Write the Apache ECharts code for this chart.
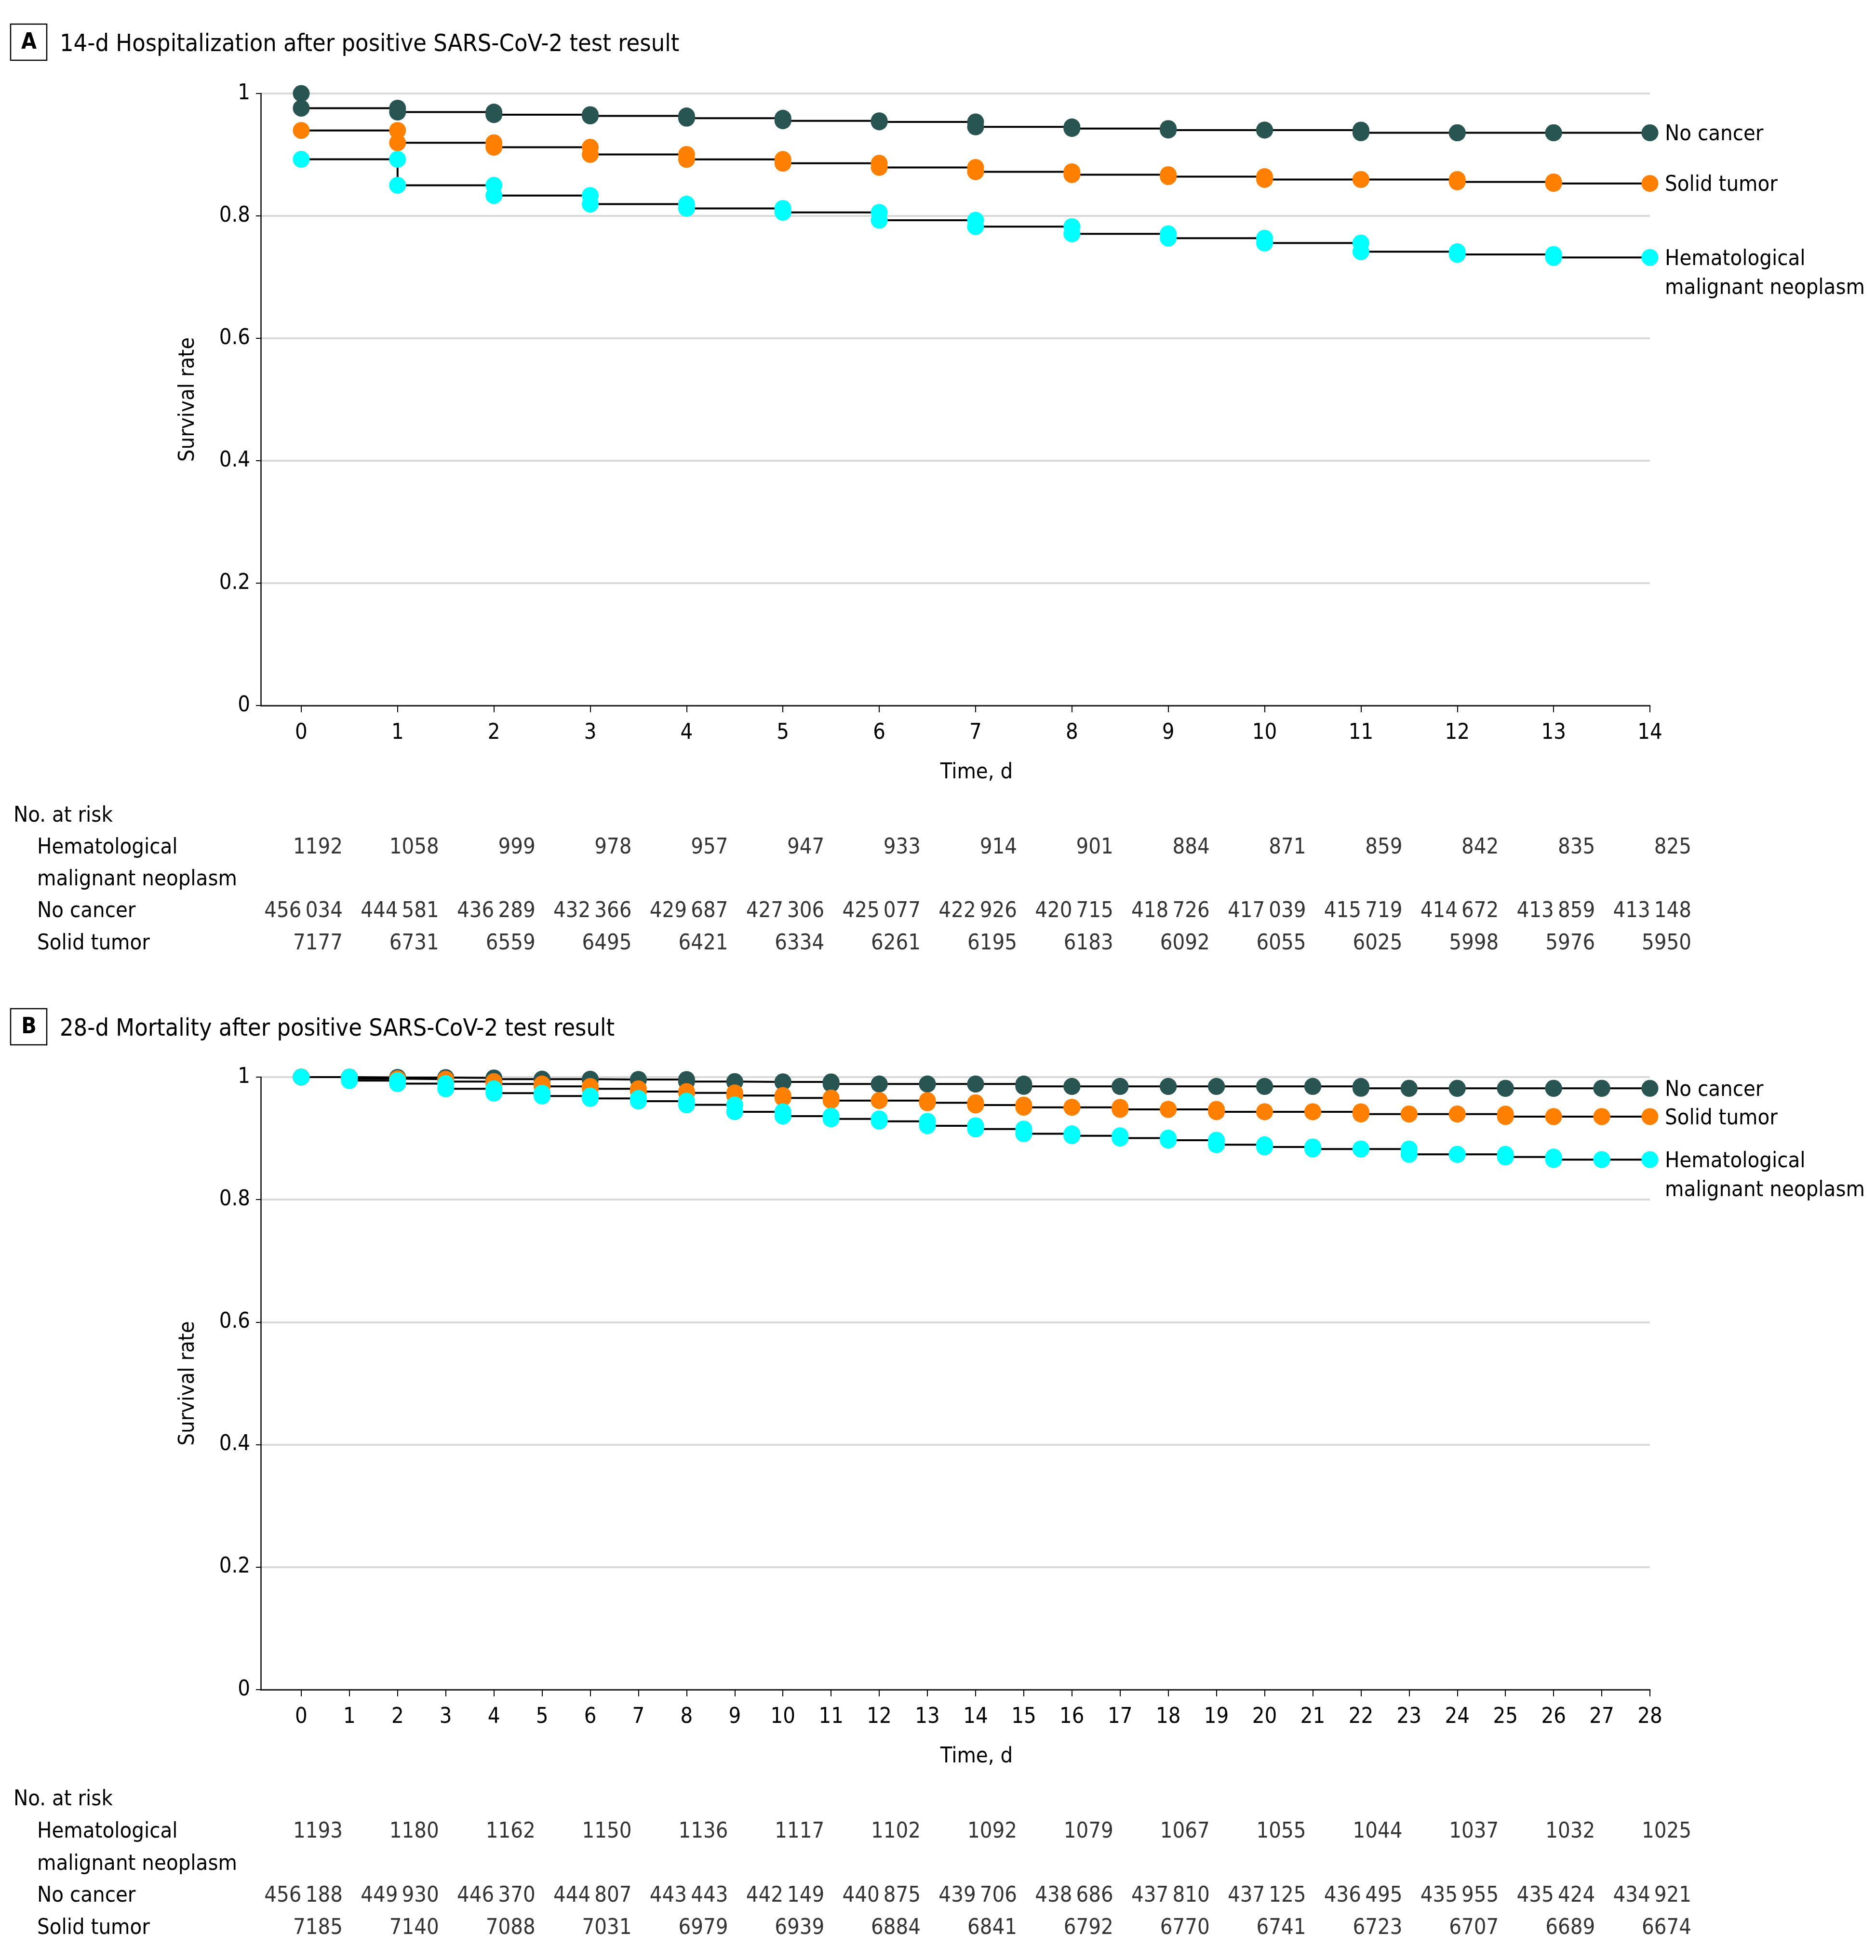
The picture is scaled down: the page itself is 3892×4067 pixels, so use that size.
<!DOCTYPE html>
<html><head><meta charset="utf-8">
<script src="https://cdn.jsdelivr.net/npm/echarts@6/dist/echarts.min.js"></script>
<style>html,body{margin:0;padding:0;background:#fff}#c{width:3892px;height:4067px}</style>
</head><body><div id="c"></div>
<script>
const FONT = "'DejaVu Sans Condensed', 'DejaVu Sans', sans-serif";
const C_NO = '#285452', C_SOLID = '#FF8000', C_HEME = '#00FFFF';

// ---- Panel A: 14-d hospitalization (value of survival on [d, d+1)) ----
const daysA = [0,1,2,3,4,5,6,7,8,9,10,11,12,13,14];
const noCancerStartA = 1.0;
const noCancerA = [0.976,0.9696,0.9654,0.9633,0.9596,0.9554,0.9536,0.9454,0.9428,0.9402,0.9402,0.9358,0.9358,0.9358];
const solidA = [0.9396,0.9195,0.9122,0.9004,0.8923,0.886,0.8792,0.8721,0.8674,0.8642,0.8595,0.8595,0.8556,0.853];
const hemeA = [0.8925,0.85,0.8333,0.8192,0.8123,0.8058,0.7929,0.7825,0.7707,0.7636,0.7557,0.7415,0.7371,0.7321];

// ---- Panel B: 28-d mortality ----
const daysB = [0,1,2,3,4,5,6,7,8,9,10,11,12,13,14,15,16,17,18,19,20,21,22,23,24,25,26,27,28];
const noCancerB = [1.0,0.9995,0.9992,0.9987,0.9966,0.9966,0.9961,0.9961,0.9927,0.9921,0.9921,0.9887,0.9887,0.9887,0.9887,0.9848,0.9848,0.9848,0.9848,0.9848,0.9848,0.9848,0.9817,0.9817,0.9817,0.9817,0.9817,0.9817];
const solidB = [1.0,0.9974,0.9966,0.9927,0.9887,0.9848,0.9809,0.9764,0.9743,0.9699,0.9659,0.9617,0.9617,0.9581,0.9544,0.9507,0.9507,0.9473,0.9473,0.9434,0.9434,0.9434,0.9397,0.9397,0.9397,0.9355,0.9355,0.9355];
const hemeB = [1.0,0.9942,0.9893,0.9809,0.9738,0.9691,0.9651,0.9607,0.9547,0.9434,0.9363,0.9318,0.9279,0.9206,0.9153,0.9075,0.9043,0.9004,0.8970,0.8896,0.8860,0.8826,0.8826,0.8739,0.8739,0.8695,0.8653,0.8653];

// ---- Number at risk ----
const riskDaysA = [0,1,2,3,4,5,6,7,8,9,10,11,12,13,14];
const riskHemeA = [1192,1058,999,978,957,947,933,914,901,884,871,859,842,835,825];
const riskNoCancerA = [456034,444581,436289,432366,429687,427306,425077,422926,420715,418726,417039,415719,414672,413859,413148];
const riskSolidA = [7177,6731,6559,6495,6421,6334,6261,6195,6183,6092,6055,6025,5998,5976,5950];
const riskDaysB = [0,2,4,6,8,10,12,14,16,18,20,22,24,26,28];
const riskHemeB = [1193,1180,1162,1150,1136,1117,1102,1092,1079,1067,1055,1044,1037,1032,1025];
const riskNoCancerB = [456188,449930,446370,444807,443443,442149,440875,439706,438686,437810,437125,436495,435955,435424,434921];
const riskSolidB = [7185,7140,7088,7031,6979,6939,6884,6841,6792,6770,6741,6723,6707,6689,6674];

const yTickLabels = ['0','0.2','0.4','0.6','0.8','1'];
const rowLabels = ['No. at risk','Hematological','malignant neoplasm','No cancer','Solid tumor'];
const seriesNames = ['No cancer','Solid tumor','Hematological\nmalignant neoplasm'];

function stepData(start, vals){
  const pts = [];
  if (start != null) pts.push([0, start]);
  pts.push([0, vals[0]]);
  for (let i = 1; i < vals.length; i++){ pts.push([i, vals[i-1]]); pts.push([i, vals[i]]); }
  pts.push([vals.length, vals[vals.length-1]]);
  return pts;
}
function fmtN(n){ return n >= 10000 ? String(n).replace(/\B(?=(\d{3})+(?!\d))/g, '\u2009') : String(n); }

const TS = 45;
const GL = 541, GW = 2882;
const txt = {color:'#000', fontFamily: FONT, fontSize: TS};

function xAxisPlot(gi, min, max, days){
  return {gridIndex: gi, type:'value', min:min, max:max,
    axisLine:{show:true, onZero:false, lineStyle:{color:'#222', width:3}},
    axisTick:{show:true, customValues: days, length:14, lineStyle:{color:'#000', width:2}},
    axisLabel:Object.assign({customValues: days, margin:35}, txt),
    splitLine:{show:false},
    name:'Time, d', nameLocation:'middle', nameGap:117,
    nameTextStyle:Object.assign({padding:[0,0,0,88]}, txt)};
}
function yAxisPlot(gi){
  return {gridIndex: gi, type:'value', min:0, max:1, interval:0.2,
    axisLine:{show:true, onZero:false, lineStyle:{color:'#000', width:2.5}},
    axisTick:{show:true, length:10, lineStyle:{color:'#000', width:2}},
    axisLabel:Object.assign({margin:22, padding:[8,0,0,0], formatter:(v)=>yTickLabels[Math.round(v/0.2)]}, txt),
    splitLine:{show:true, lineStyle:{color:'#d9d9d9', width:4}},
    name:'Survival rate', nameLocation:'middle', nameGap:128, nameRotate:90,
    nameTextStyle: txt};
}
function xAxisTable(gi, min, max){
  return {gridIndex: gi, type:'value', min:min, max:max, show:false};
}
function yAxisTable(gi){
  return {gridIndex: gi, type:'category', data: rowLabels, inverse:true,
    axisLine:{show:false}, axisTick:{show:false}, splitLine:{show:false},
    axisLabel:{align:'left', margin: GL-28,
      formatter:(v, i)=> i===0 ? '{a|'+v+'}' : '{b|'+v+'}',
      rich:{a:Object.assign({}, txt), b:Object.assign({padding:[0,0,0,49]}, txt)}}};
}
function kmSeries(xi, name, color, data, labelOffsetY){
  return {type:'line', xAxisIndex:xi, yAxisIndex:xi, name:name, data:data,
    symbol:'circle', symbolSize:35, showSymbol:true, showAllSymbol:true,
    itemStyle:{color:color}, lineStyle:{color:'#000', width:4},
    emphasis:{disabled:true}, silent:true,
    endLabel:Object.assign({show:true, formatter:name, distance:31, lineHeight:60,
      offset:[0, labelOffsetY], align:'left'}, txt)};
}
function riskSeries(xi, days, vals, row){
  return {type:'scatter', xAxisIndex:xi, yAxisIndex:xi, symbolSize:1,
    itemStyle:{color:'rgba(0,0,0,0)'}, silent:true,
    data: days.map((d,i)=>[d, row, vals[i]]),
    label:Object.assign({show:true, position:'inside', align:'right', verticalAlign:'middle',
      offset:[86,0], formatter:(p)=>fmtN(p.value[2])}, txt)};
}

const chart = echarts.init(document.getElementById('c'), null, {renderer:'canvas', width:3892, height:4067});
chart.setOption({
  animation:false,
  backgroundColor:'#fff',
  grid:[
    {left:GL, top:194, width:GW, height:1270},
    {left:GL, top:2235, width:GW, height:1271},
    {left:GL, top:1660, width:GW, height:331},
    {left:GL, top:3701, width:GW, height:334}
  ],
  xAxis:[xAxisPlot(0, -0.42, 14, daysA), xAxisPlot(1, -0.84, 28, daysB), xAxisTable(2, -0.42, 14), xAxisTable(3, -0.84, 28)],
  yAxis:[yAxisPlot(0), yAxisPlot(1), yAxisTable(2), yAxisTable(3)],
  graphic:[
    {type:'rect', shape:{x:22, y:50, width:75, height:75}, style:{fill:'#fff', stroke:'#000', lineWidth:2.5}},
    {type:'text', style:{text:'A', x:60, y:89, fill:'#000', font:'bold 46px '+FONT, align:'center', verticalAlign:'middle'}},
    {type:'text', style:{text:'14-d Hospitalization after positive SARS-CoV-2 test result', x:124, y:93, fill:'#000', font:'50px '+FONT, align:'left', verticalAlign:'middle'}},
    {type:'rect', shape:{x:22, y:2093, width:75, height:75}, style:{fill:'#fff', stroke:'#000', lineWidth:2.5}},
    {type:'text', style:{text:'B', x:60, y:2132, fill:'#000', font:'bold 46px '+FONT, align:'center', verticalAlign:'middle'}},
    {type:'text', style:{text:'28-d Mortality after positive SARS-CoV-2 test result', x:124, y:2136, fill:'#000', font:'50px '+FONT, align:'left', verticalAlign:'middle'}}
  ],
  series:[
    kmSeries(0, seriesNames[0], C_NO, stepData(noCancerStartA, noCancerA), 4),
    kmSeries(0, seriesNames[1], C_SOLID, stepData(null, solidA), 4),
    kmSeries(0, seriesNames[2], C_HEME, stepData(null, hemeA), 34),
    kmSeries(1, seriesNames[0], C_NO, stepData(null, noCancerB), 4),
    kmSeries(1, seriesNames[1], C_SOLID, stepData(null, solidB), 4),
    kmSeries(1, seriesNames[2], C_HEME, stepData(null, hemeB), 34),
    riskSeries(2, riskDaysA, riskHemeA, 'Hematological'),
    riskSeries(2, riskDaysA, riskNoCancerA, 'No cancer'),
    riskSeries(2, riskDaysA, riskSolidA, 'Solid tumor'),
    riskSeries(3, riskDaysB, riskHemeB, 'Hematological'),
    riskSeries(3, riskDaysB, riskNoCancerB, 'No cancer'),
    riskSeries(3, riskDaysB, riskSolidB, 'Solid tumor')
  ]
});
</script></body></html>
